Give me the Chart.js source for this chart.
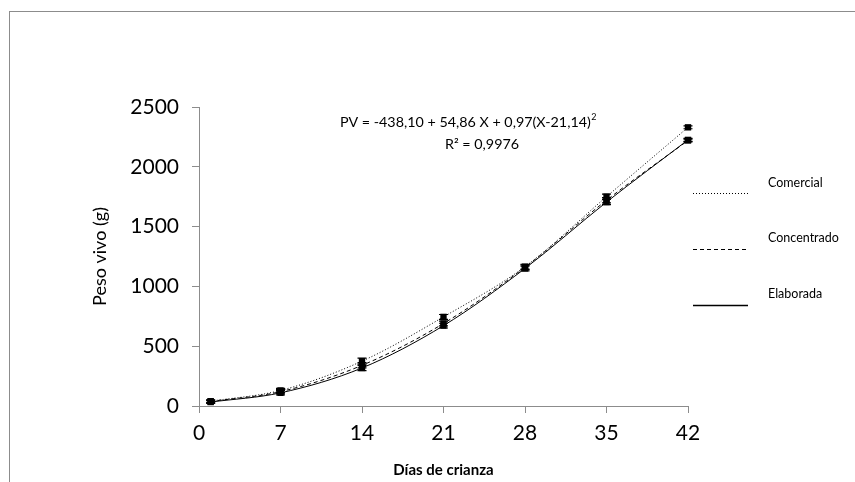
<!DOCTYPE html>
<html>
<head>
<meta charset="utf-8">
<script src="https://cdn.jsdelivr.net/npm/chart.js@4/dist/chart.umd.min.js"></script>
<style>
  html, body { margin: 0; padding: 0; background: #fff; }
  canvas { display: block; }
</style>
</head>
<body>
<canvas id="c" width="855" height="482"></canvas>
<script>
// ---- data ----
const days = [1, 7, 14, 21, 28, 35, 42];
const seriesNames = ['Comercial', 'Concentrado', 'Elaborada'];
const comercial   = [40, 130, 375, 745, 1165, 1750, 2330];
const concentrado = [38, 120, 340, 690, 1160, 1720, 2220];
const elaborada   = [33, 110, 318, 672, 1150, 1705, 2225];
const errComercial   = [12, 18, 25, 20, 20, 22, 12];
const errConcentrado = [12, 18, 22, 20, 20, 22, 12];
const errElaborada   = [12, 18, 22, 20, 20, 22, 12];
const xTickValues = [0, 7, 14, 21, 28, 35, 42];
const yTickValues = [0, 500, 1000, 1500, 2000, 2500];
const equationText = 'PV = -438,10 + 54,86 X + 0,97(X-21,14)';
const equationSup = '2';
const r2Text = 'R² = 0,9976';

const FONT = 'Lato, "Open Sans", sans-serif';
const dashes = [[1, 2], [4, 3], []];
const values = [comercial, concentrado, elaborada];
const errors = [errComercial, errConcentrado, errElaborada];

const datasets = seriesNames.map((name, k) => ({
  label: name,
  data: days.map((d, i) => ({ x: d, y: values[k][i] })),
  errors: errors[k],
  borderColor: '#000',
  borderWidth: 1,
  borderDash: dashes[k],
  backgroundColor: '#000',
  pointStyle: 'rect',
  pointRadius: 4.5,
  pointBackgroundColor: '#000',
  pointBorderColor: '#000',
  pointBorderWidth: 0,
  cubicInterpolationMode: 'monotone',
  clip: false,
  fill: false
}));

const framePlugin = {
  id: 'frame',
  beforeDraw(chart) {
    const ctx = chart.ctx;
    ctx.save();
    ctx.fillStyle = '#fff';
    ctx.fillRect(0, 0, chart.width, chart.height);
    ctx.strokeStyle = '#8c8c8c';
    ctx.lineWidth = 1;
    ctx.strokeRect(9.5, 11.5, 1000, 1000);
    ctx.restore();
  }
};

const errorBarPlugin = {
  id: 'errbars',
  afterDatasetsDraw(chart) {
    const ctx = chart.ctx;
    const ys = chart.scales.y;
    ctx.save();
    ctx.strokeStyle = '#000';
    ctx.lineWidth = 1.2;
    ctx.setLineDash([]);
    chart.data.datasets.forEach((ds, k) => {
      const meta = chart.getDatasetMeta(k);
      meta.data.forEach((pt, i) => {
        const v = ds.data[i].y, e = ds.errors[i];
        const yt = ys.getPixelForValue(v + e);
        const yb = ys.getPixelForValue(v - e);
        const x = pt.x;
        ctx.beginPath();
        ctx.moveTo(x, yt); ctx.lineTo(x, yb);
        ctx.moveTo(x - 4.5, yt); ctx.lineTo(x + 4.5, yt);
        ctx.moveTo(x - 4.5, yb); ctx.lineTo(x + 4.5, yb);
        ctx.stroke();
      });
    });
    ctx.restore();
  }
};

const annotPlugin = {
  id: 'annot',
  afterDraw(chart) {
    const ctx = chart.ctx;
    ctx.save();
    ctx.fillStyle = '#000';
    ctx.textBaseline = 'middle';
    // equation
    ctx.font = '14.3px ' + FONT;
    const w1 = ctx.measureText(equationText).width;
    ctx.font = '9px ' + FONT;
    const w2 = ctx.measureText(equationSup).width;
    const cx = 468, cy = 122;
    const x0 = cx - (w1 + w2) / 2;
    ctx.textAlign = 'left';
    ctx.font = '14.3px ' + FONT;
    ctx.fillText(equationText, x0, cy);
    ctx.font = '9px ' + FONT;
    ctx.fillText(equationSup, x0 + w1 + 0.5, cy - 5);
    ctx.font = '14.3px ' + FONT;
    ctx.textAlign = 'center';
    ctx.fillText(r2Text, 482, 144);

    // legend
    const legY = [[183, 193], [238, 249], [294, 305]];
    chart.data.datasets.forEach((ds, k) => {
      ctx.strokeStyle = '#000';
      ctx.lineWidth = k === 2 ? 1.3 : 1;
      ctx.setLineDash(ds.borderDash);
      ctx.beginPath();
      ctx.moveTo(693, legY[k][1] + 0.5);
      ctx.lineTo(748, legY[k][1] + 0.5);
      ctx.stroke();
      ctx.setLineDash([]);
      ctx.font = '12.5px ' + FONT;
      ctx.textAlign = 'left';
      ctx.fillText(ds.label, 768, legY[k][0]);
    });
    ctx.restore();
  }
};

new Chart(document.getElementById('c'), {
  type: 'line',
  data: { datasets },
  options: {
    responsive: false,
    animation: false,
    layout: { padding: { left: 0, top: 107, right: 167, bottom: 0 } },
    plugins: { legend: { display: false }, tooltip: { enabled: false } },
    scales: {
      x: {
        type: 'linear',
        min: 0, max: 42,
        afterBuildTicks(s) { s.ticks = xTickValues.map(v => ({ value: v })); },
        afterFit(s) { s.height = 76; },
        ticks: { font: { size: 21, family: FONT }, color: '#000', padding: 8, maxRotation: 0,
                 callback: v => String(v) },
        grid: { drawOnChartArea: false, tickLength: 7, color: '#8c8c8c' },
        border: { color: '#8c8c8c', width: 1 },
        title: { display: true, text: 'Días de crianza', color: '#000',
                 font: { size: 15, weight: 'bold', family: FONT }, padding: { top: 0, bottom: 3 } }
      },
      y: {
        min: 0, max: 2500,
        afterBuildTicks(s) { s.ticks = yTickValues.map(v => ({ value: v })); },
        afterFit(s) { s.width = 199; },
        ticks: { font: { size: 21, family: FONT }, color: '#000', padding: 13,
                 callback: v => String(v) },
        grid: { drawOnChartArea: false, tickLength: 7, color: '#8c8c8c' },
        border: { color: '#8c8c8c', width: 1 },
        title: { display: true, text: 'Peso vivo (g)', color: '#000',
                 font: { size: 18, family: FONT }, padding: { top: 89, bottom: 0 } }
      }
    }
  },
  plugins: [framePlugin, errorBarPlugin, annotPlugin]
});
</script>
</body>
</html>
